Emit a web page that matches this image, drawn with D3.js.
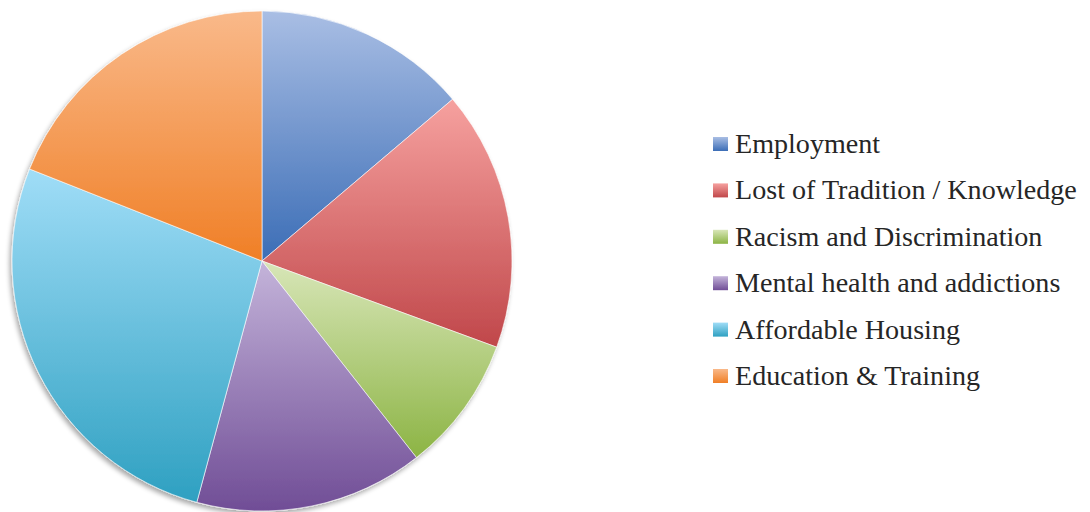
<!DOCTYPE html>
<html>
<head>
<meta charset="utf-8">
<script src="https://cdn.jsdelivr.net/npm/d3@7"></script>
<style>
  html, body { margin: 0; padding: 0; background: #fff; }
  svg { display: block; }
</style>
</head>
<body>
<figure id="pie" style="margin:0"></figure>
<script>
// chart data
const categories = ["Employment", "Lost of Tradition / Knowledge", "Racism and Discrimination",
  "Mental health and addictions", "Affordable Housing", "Education & Training"];
const values = [13.8, 16.8, 8.8, 14.8, 26.8, 19.0];
const lightColors = ["#a9bee4", "#f6a19f", "#d8e6b8", "#c4b4da", "#a0ddf7", "#f9b98a"];
const darkColors = ["#3b6db6", "#c0474a", "#8cb444", "#704d96", "#2ea0c1", "#f07f26"];

const width = 1090;
const height = 512;
const cx = 262, cy = 261, radius = 250;

const svg = d3.select("figure#pie")
  .append("svg")
  .attr("width", width)
  .attr("height", height);

const defs = svg.append("defs");

// soft shadow like the office chart
const shadow = defs.append("filter").attr("id", "shadow")
  .attr("x", "-10%").attr("y", "-10%").attr("width", "120%").attr("height", "120%");
shadow.append("feGaussianBlur").attr("in", "SourceAlpha").attr("stdDeviation", 2.5);
shadow.append("feOffset").attr("dx", -2).attr("dy", 3).attr("result", "off");
shadow.append("feComponentTransfer").append("feFuncA").attr("type", "linear").attr("slope", 0.35);
const merge = shadow.append("feMerge");
merge.append("feMergeNode");
merge.append("feMergeNode").attr("in", "SourceGraphic");

categories.forEach((c, i) => {
  const g = defs.append("linearGradient")
    .attr("id", "grad" + i)
    .attr("x1", 0).attr("y1", 0).attr("x2", 0).attr("y2", 1);
  g.append("stop").attr("offset", "0%").attr("stop-color", lightColors[i]);
  g.append("stop").attr("offset", "100%").attr("stop-color", darkColors[i]);
});

const data = categories.map((c, i) => ({ name: c, value: values[i], i: i }));

const pie = d3.pie().value(d => d.value).sort(null);
const arc = d3.arc().innerRadius(0).outerRadius(radius);

const g = svg.append("g")
  .attr("transform", "translate(" + cx + "," + cy + ")")
  .attr("filter", "url(#shadow)");

g.selectAll("path")
  .data(pie(data))
  .enter()
  .append("path")
  .attr("d", arc)
  .attr("fill", d => "url(#grad" + d.data.i + ")")
  .attr("stroke", "#ffffff")
  .attr("stroke-width", 0.6);

// legend
const legend = svg.append("g").attr("transform", "translate(713,153)");
const rowH = 46.4;

const rows = legend.selectAll("g")
  .data(data)
  .enter()
  .append("g")
  .attr("transform", (d, i) => "translate(0," + i * rowH + ")");

rows.append("rect")
  .attr("x", 0).attr("y", -16)
  .attr("width", 15).attr("height", 14)
  .attr("fill", d => "url(#grad" + d.i + ")");

rows.append("text")
  .attr("x", 22).attr("y", 0)
  .attr("font-family", "'Liberation Serif', 'DejaVu Serif', serif")
  .attr("font-size", 26)
  .attr("fill", "#262626")
  .text(d => d.name);

// fit the longest label to the reference width
const longest = rows.selectAll("text").nodes()[1];
const w = longest.getComputedTextLength();
const fs = 26 * 342 / w;
rows.selectAll("text").attr("font-size", fs);
</script>
</body>
</html>
